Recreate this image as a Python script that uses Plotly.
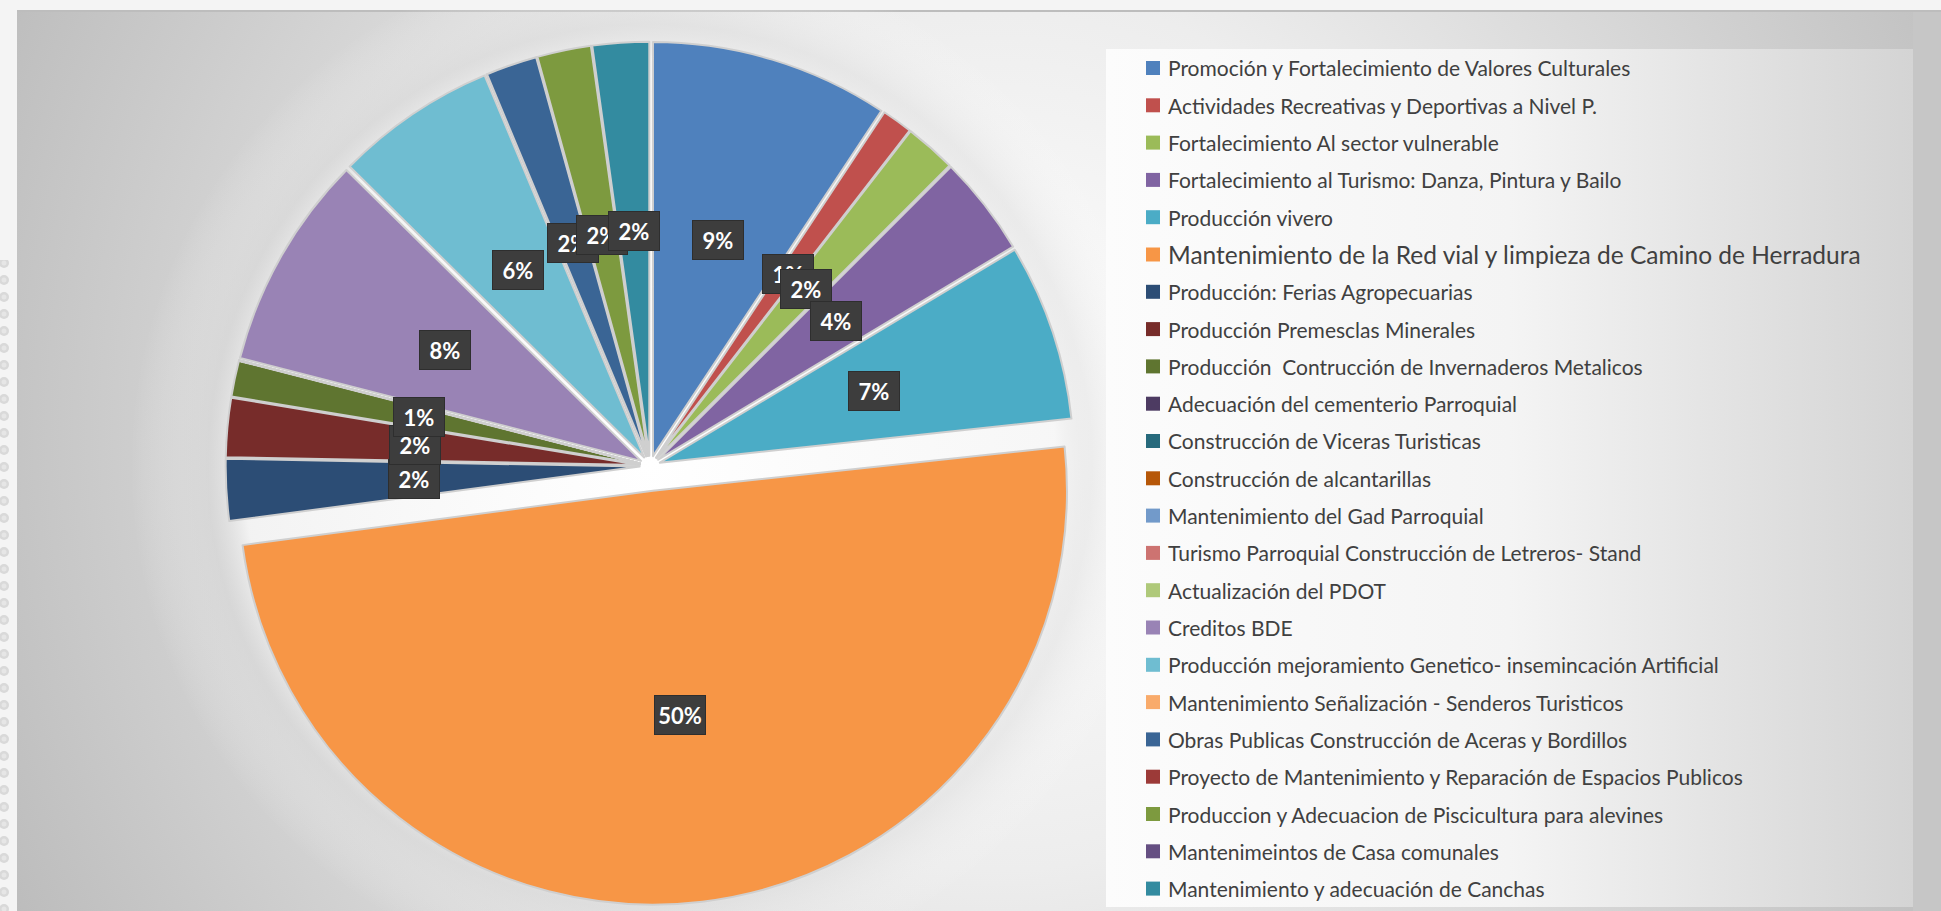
import base64
import numpy as np
import plotly.graph_objects as go

# ---------------- data ----------------
categories = [
    "Promoción y Fortalecimiento de Valores Culturales",
    "Actividades Recreativas y Deportivas a Nivel P.",
    "Fortalecimiento Al sector vulnerable",
    "Fortalecimiento al Turismo: Danza, Pintura y Bailo",
    "Producción vivero",
    "Mantenimiento de la Red vial y limpieza de Camino de Herradura",
    "Producción: Ferias Agropecuarias",
    "Producción Premesclas Minerales",
    "Producción  Contrucción de Invernaderos Metalicos",
    "Adecuación del cementerio Parroquial",
    "Construcción de Viceras Turisticas",
    "Construcción de alcantarillas",
    "Mantenimiento del Gad Parroquial",
    "Turismo Parroquial Construcción de Letreros- Stand",
    "Actualización del PDOT",
    "Creditos BDE",
    "Producción mejoramiento Genetico- insemincación Artificial",
    "Mantenimiento Señalización - Senderos Turisticos",
    "Obras Publicas Construcción de Aceras y Bordillos",
    "Proyecto de Mantenimiento y Reparación de Espacios Publicos",
    "Produccion y Adecuacion de Piscicultura para alevines",
    "Mantenimeintos de Casa comunales",
    "Mantenimiento y adecuación de Canchas",
]
shares = [9.3, 1.2, 2.0, 3.9, 6.9, 49.6, 2.4, 2.3, 1.4,
          0, 0, 0, 0, 0, 0,
          8.4, 6.3, 0, 2.0, 0, 2.1, 0, 2.2]

colors = ["#4F81BD", "#C0504D", "#9BBB59", "#8064A2", "#4BACC6", "#F79646",
          "#2C4D75", "#772C2A", "#5F7530", "#4D3B62", "#276A7C", "#B65708",
          "#729ACA", "#CD7371", "#AFC97A", "#9983B5", "#6FBDD1", "#F9AB6B",
          "#3A6595", "#9C3A38", "#7D9A3F", "#654F82", "#338BA0"]

# ---------------- geometry / style ----------------
W, H = 1941, 911
CX, CY, R = 650, 466, 414           # pie centre and radius in px
base_pull, big_pull = 0.025, 0.06
vals = np.array(shares, dtype=float)
pulls = np.where(vals == vals.max(), big_pull, base_pull)
half = R * (1 + pulls.max())
dom_x = [(CX - half) / W, (CX + half) / W]
dom_y = [1 - (CY + half) / H, 1 - (CY - half) / H]

fig = go.Figure()
fig.add_trace(go.Pie(
    labels=categories, values=vals, sort=False, direction="clockwise",
    rotation=0, pull=pulls, textinfo="none", hoverinfo="label+percent",
    marker=dict(colors=colors, line=dict(color="#cfcfcf", width=2)),
    domain=dict(x=dom_x, y=dom_y), showlegend=False,
))

# ---------------- data labels (derived from the values) ----------------
frac = vals / vals.sum()
ends = np.cumsum(frac)
starts = ends - frac
annotations = []
for i, f in enumerate(frac):
    if f <= 0:
        continue
    th = 2 * np.pi * (starts[i] + ends[i]) / 2
    d = 0.545 * R + pulls[i] * R
    px = CX + d * np.sin(th)
    py = CY - d * np.cos(th)
    annotations.append(dict(
        x=px / W, y=1 - py / H, xref="paper", yref="paper",
        text=f"<b>{round(f * 100)}%</b>", showarrow=False,
        font=dict(family="Lato", size=22, color="white"),
        bgcolor="#3d3d3d", bordercolor="#2e2e2e", borderwidth=1,
        borderpad=3, width=44, height=32, xanchor="center", yanchor="middle",
    ))

# ---------------- legend (text + colour keys) ----------------
shapes = []
row0, step = 68, 37.3
for i, (lab, col) in enumerate(zip(categories, colors)):
    yc = row0 + i * step
    big = (vals[i] == vals.max())
    annotations.append(dict(
        x=1166 / W, y=1 - yc / H, xref="paper", yref="paper",
        text=lab, showarrow=False, xanchor="left", yanchor="middle",
        font=dict(family="Lato", size=24.5 if big else 21, color="#404040"),
    ))
    shapes.append(dict(
        type="rect", xref="paper", yref="paper",
        x0=1146 / W, x1=1160 / W, y0=1 - (yc + 7) / H, y1=1 - (yc - 7) / H,
        fillcolor=col, line=dict(width=0),
    ))

# ---------------- background image (gradients) ----------------
svg = f"""<svg xmlns="http://www.w3.org/2000/svg" width="{W}" height="{H}" viewBox="0 0 {W} {H}">
<defs>
<radialGradient id="bg" cx="1000" cy="430" r="1100" gradientUnits="userSpaceOnUse">
<stop offset="0" stop-color="#ffffff"/>
<stop offset="0.4" stop-color="#ededed"/>
<stop offset="1" stop-color="#bcbcbc"/>
</radialGradient>
<radialGradient id="glow" cx="{CX}" cy="{CY}" r="520" gradientUnits="userSpaceOnUse">
<stop offset="0" stop-color="#ffffff" stop-opacity="1"/>
<stop offset="0.78" stop-color="#f6f6f6" stop-opacity="0.9"/>
<stop offset="0.85" stop-color="#dcdcdc" stop-opacity="0.45"/>
<stop offset="1" stop-color="#ffffff" stop-opacity="0"/>
</radialGradient>
<linearGradient id="leg" x1="0" y1="0" x2="1" y2="0">
<stop offset="0" stop-color="#fcfcfc"/>
<stop offset="0.5" stop-color="#f4f4f4"/>
<stop offset="1" stop-color="#d4d4d4"/>
</linearGradient>
<pattern id="dots" x="0" y="0" width="17" height="17" patternUnits="userSpaceOnUse">
<circle cx="4" cy="8" r="5" fill="#d9d9d9"/>
<circle cx="4" cy="8" r="2.5" fill="#e6e6e6"/>
</pattern>
</defs>
<rect x="0" y="0" width="{W}" height="{H}" fill="#f4f4f4"/>
<rect x="0" y="260" width="17" height="{H-260}" fill="url(#dots)"/>
<rect x="17" y="10" width="{W-17}" height="{H-10}" fill="url(#bg)"/>
<rect x="17" y="10" width="{W-17}" height="2" fill="#bdbdbd"/>
<rect x="17" y="10" width="1090" height="{H-10}" fill="url(#glow)"/>
<rect x="1106" y="49" width="807" height="858" fill="url(#leg)"/>
<rect x="1913" y="12" width="28" height="{H-12}" fill="#c6c6c6"/>
</svg>"""
src = "data:image/svg+xml;base64," + base64.b64encode(svg.encode("utf-8")).decode("ascii")

fig.update_layout(
    width=W, height=H, margin=dict(l=0, r=0, t=0, b=0, pad=0),
    paper_bgcolor="rgba(0,0,0,0)", plot_bgcolor="rgba(0,0,0,0)",
    annotations=annotations, shapes=shapes, showlegend=False,
    images=[dict(source=src, xref="paper", yref="paper", x=0, y=1,
                 sizex=1, sizey=1, xanchor="left", yanchor="top",
                 sizing="stretch", layer="below")],
)

fig.write_html("out.html", config={"displayModeBar": False},
               post_script="document.body.style.margin='0';")
